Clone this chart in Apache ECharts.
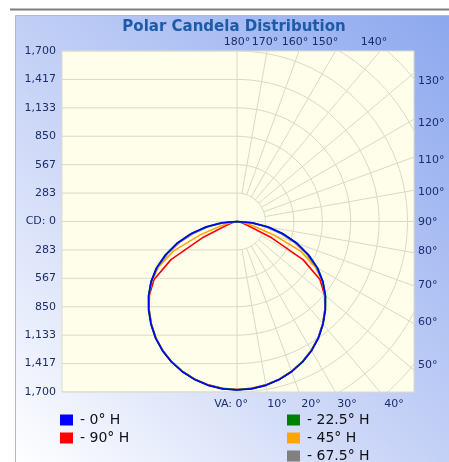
<!DOCTYPE html>
<html>
<head>
<meta charset="utf-8">
<script src="https://cdn.jsdelivr.net/npm/echarts@6/dist/echarts.min.js"></script>
<style>
  html, body { margin: 0; padding: 0; background: #ffffff; }
  #chart { width: 449px; height: 462px; }
</style>
</head>
<body>
<div id="chart"></div>
<script>
// ---------------- data ----------------
const vaAngles = [0, 5, 10, 15, 20, 25, 30, 35, 40, 45, 50, 55, 60, 65, 70, 75, 80, 85, 90];
const cdH0    = [1680, 1675, 1659, 1632, 1594, 1546, 1487, 1416, 1334, 1245, 1150, 1045, 925, 785, 635, 475, 315, 150, 0];
const cdH22_5 = [1678, 1673, 1658, 1630, 1592, 1545, 1487, 1418, 1337, 1248, 1153, 1048, 930, 790, 640, 480, 322, 155, 0];
const cdH45   = [1677, 1672, 1656, 1629, 1591, 1543, 1484, 1414, 1332, 1243, 1148, 1042, 900, 700, 390, 170, 75, 30, 0];
const cdH67_5 = [1676, 1671, 1655, 1628, 1590, 1542, 1483, 1412, 1330, 1240, 1145, 1038, 915, 765, 610, 440, 285, 135, 0];
const cdH90   = [1675, 1670, 1654, 1627, 1590, 1542, 1483, 1412, 1330, 1240, 1140, 1010, 760, 370, 110, 50, 20, 8, 0];

const seriesNames = ['0° H', '22.5° H', '45° H', '67.5° H', '90° H'];
const topAngleLabels = ['180°', '170°', '160°', '150°', '140°'];
const rightAngleLabels = ['130°', '120°', '110°', '100°', '90°', '80°', '70°', '60°', '50°'];
const bottomAngleLabels = ['VA: 0°', '10°', '20°', '30°', '40°'];
const gridAngles = [0, 10, 20, 30, 40, 50, 60, 70, 80, 90, 100, 110, 120, 130, 140, 150, 160, 170, 180];

// ---------------- layout / style ----------------
const CD_MAX = 1700;
const CD_STEP = CD_MAX / 6;
const X_MIN = -1745, X_MAX = 1765;
const GRID_COLOR = '#d9d9c9';
const LABEL_COLOR = '#1b2d6e';
const seriesColors = { '0° H': '#0000ff', '22.5° H': '#008000', '45° H': '#ffa500', '67.5° H': '#808080', '90° H': '#ff0000' };
const topLabelPos = [[237, 42], [265, 42], [295, 42], [325, 42], [374, 42]];
const rightLabelPos = [[418, 81], [418, 123], [418, 160], [418, 192], [418, 222], [418, 251], [418, 285], [418, 322], [418, 365]];
const bottomLabelPos = [[248, 404, 'right'], [277, 404, 'center'], [311, 404, 'center'], [347, 404, 'center'], [394, 404, 'center']];

function polar(r, deg) {
  const t = deg * Math.PI / 180;
  return [r * Math.sin(t), -r * Math.cos(t)];
}

function curvePoints(vals) {
  const pts = [];
  for (let i = vaAngles.length - 1; i >= 0; i--) {
    const p = polar(vals[i], vaAngles[i]);
    pts.push([-p[0], p[1]]);
  }
  for (let i = 1; i < vaAngles.length; i++) pts.push(polar(vals[i], vaAngles[i]));
  return pts;
}

const gridSeries = [];
function gridLine(data) {
  gridSeries.push({
    type: 'line', data: data, showSymbol: false, symbol: 'none', silent: true,
    lineStyle: { color: GRID_COLOR, width: 1 }, z: 1, clip: true, animation: false
  });
}
// left horizontal lines
for (let k = -6; k <= 6; k++) gridLine([[X_MIN, k * CD_STEP], [0, k * CD_STEP]]);
// arcs (right half)
for (let k = 1; k <= 8; k++) {
  const arc = [];
  for (let a = 0; a <= 180; a += 2) arc.push(polar(k * CD_STEP, a));
  gridLine(arc);
}
// radial lines
gridAngles.forEach(a => {
  const r0 = (a === 0 || a === 90 || a === 180) ? 0 : CD_STEP;
  gridLine([polar(r0, a), polar(3000, a)]);
});

const dataMap = { '0° H': cdH0, '22.5° H': cdH22_5, '45° H': cdH45, '67.5° H': cdH67_5, '90° H': cdH90 };
const drawOrder = ['90° H', '45° H', '67.5° H', '22.5° H', '0° H'];
const curveSeries = drawOrder.map((name, i) => ({
  name: name, type: 'line', data: curvePoints(dataMap[name]), showSymbol: false, symbol: 'none',
  lineStyle: { color: seriesColors[name], width: 1.6 }, itemStyle: { color: seriesColors[name] },
  z: 5 + i, clip: true, animation: false
}));

const labelFont = 'DejaVu Sans';
const graphics = [
  { type: 'rect', z: -100, silent: true, shape: { x: 15.5, y: 15.5, width: 440, height: 450 },
    style: { fill: new echarts.graphic.LinearGradient(1, 0, 0, 1, [
      { offset: 0, color: '#8ba7ee' }, { offset: 0.55, color: '#c8d4f7' }, { offset: 1, color: '#ffffff' }]),
      stroke: '#aebad6', lineWidth: 1 } },
  { type: 'line', z: -100, silent: true, shape: { x1: 10, y1: 9.5, x2: 449, y2: 9.5 }, style: { stroke: '#7d7d7d', lineWidth: 2 } },
  { type: 'text', z: 100, x: 234, y: 27, style: { text: 'Polar Candela Distribution', fill: '#1d5aa8',
      font: 'bold 15px "DejaVu Sans"', textAlign: 'center', textVerticalAlign: 'middle' } }
];
topAngleLabels.forEach((t, i) => graphics.push({ type: 'text', z: 100, x: topLabelPos[i][0], y: topLabelPos[i][1],
  style: { text: t, fill: LABEL_COLOR, font: '11px "' + labelFont + '"', textAlign: 'center', textVerticalAlign: 'middle' } }));
rightAngleLabels.forEach((t, i) => graphics.push({ type: 'text', z: 100, x: rightLabelPos[i][0], y: rightLabelPos[i][1],
  style: { text: t, fill: LABEL_COLOR, font: '11px "' + labelFont + '"', textAlign: 'left', textVerticalAlign: 'middle' } }));
bottomAngleLabels.forEach((t, i) => graphics.push({ type: 'text', z: 100, x: bottomLabelPos[i][0], y: bottomLabelPos[i][1],
  style: { text: t, fill: LABEL_COLOR, font: '11px "' + labelFont + '"', textAlign: bottomLabelPos[i][2], textVerticalAlign: 'middle' } }));

const legendCommon = {
  orient: 'vertical', icon: 'rect', itemWidth: 13, itemHeight: 11, itemGap: 4, height: 120,
  formatter: n => '- ' + n, selectedMode: false, padding: 0,
  textStyle: { fontFamily: 'DejaVu Sans', fontSize: 14, color: '#111111', padding: [0, 0, 0, 2], lineHeight: 14 }
};

const chart = echarts.init(document.getElementById('chart'), null, { renderer: 'canvas' });
chart.setOption({
  animation: false,
  backgroundColor: 'transparent',
  graphic: graphics,
  grid: { left: 62, right: 35, top: 51, bottom: 70, show: true, backgroundColor: '#fefeeb', borderColor: '#dcdccc', borderWidth: 1 },
  xAxis: { type: 'value', min: X_MIN, max: X_MAX, show: false },
  yAxis: {
    type: 'value', min: -CD_MAX, max: CD_MAX, interval: CD_STEP,
    axisLine: { show: false }, axisTick: { show: false }, splitLine: { show: false },
    axisLabel: { margin: 6, color: LABEL_COLOR, fontFamily: labelFont, fontSize: 11,
      formatter: v => Math.abs(v) < 1 ? 'CD: 0' : Math.round(Math.abs(v)).toLocaleString('en-US') }
  },
  legend: [
    Object.assign({}, legendCommon, { left: 60, top: 413, data: ['0° H', '90° H'] }),
    Object.assign({}, legendCommon, { left: 287, top: 413, data: ['22.5° H', '45° H', '67.5° H'] })
  ],
  series: gridSeries.concat(curveSeries)
});
</script>
</body>
</html>
